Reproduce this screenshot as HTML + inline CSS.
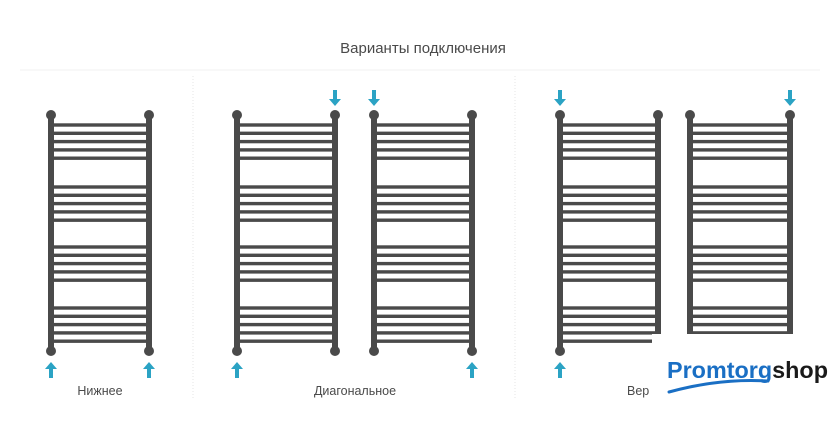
<!DOCTYPE html>
<html><head><meta charset="utf-8"><style>
html,body{margin:0;padding:0;background:#fff;}
svg{display:block}
text{font-family:"Liberation Sans","DejaVu Sans",sans-serif;fill:#4a4a4a}
</style></head><body>
<svg id="s" width="840" height="438" viewBox="0 0 840 438" xmlns="http://www.w3.org/2000/svg">
<rect width="840" height="438" fill="#fff"/>
<line x1="20" y1="70" x2="820" y2="70" stroke="#f1f1f1" stroke-width="1"/>
<line x1="193" y1="76" x2="193" y2="400" stroke="#e4e4e4" stroke-width="1" stroke-dasharray="1,2"/>
<line x1="515" y1="76" x2="515" y2="400" stroke="#e4e4e4" stroke-width="1" stroke-dasharray="1,2"/>
<text x="423" y="53" font-size="15" text-anchor="middle">Варианты подключения</text>
<text x="100" y="395" font-size="12.5" text-anchor="middle">Нижнее</text>
<text x="355" y="395" font-size="12.5" text-anchor="middle">Диагональное</text>
<text x="627" y="395" font-size="12.5">Вер</text>
<g id="g"></g>
<rect x="652" y="334" width="188" height="104" fill="#fff"/>
<text x="667" y="378" font-size="23" font-weight="bold" textLength="161" lengthAdjust="spacingAndGlyphs" style="fill:#1a6fc4">Promtorg<tspan style="fill:#1a1a1a">shop</tspan></text>
<path d="M669 392 Q720 378 768 381" stroke="#1a6fc4" stroke-width="3" fill="none" stroke-linecap="round"/>
</svg>
<script>
var g=document.getElementById('g'),h='';
var C='#4a4a4a',B='#2ba3c4';
function rad(l,r){
 h+='<rect x="'+(l-3)+'" y="115" width="6" height="236" fill="'+C+'"/>';
 h+='<rect x="'+(r-3)+'" y="115" width="6" height="236" fill="'+C+'"/>';
 [115,351].forEach(function(y){[l,r].forEach(function(x){h+='<circle cx="'+x+'" cy="'+y+'" r="5" fill="'+C+'"/>';});});
 [125,187,247,308].forEach(function(s){for(var i=0;i<5;i++){var y=s+i*8.3;h+='<rect x="'+l+'" y="'+(y-1.7)+'" width="'+(r-l)+'" height="3.4" fill="'+C+'"/>';}});
}
function up(x){h+='<path d="M'+x+' 362 l-6 7 h4 v9 h4 v-9 h4 z" fill="'+B+'"/>';}
function dn(x){h+='<path d="M'+x+' 106 l-6 -7 h4 v-9 h4 v9 h4 z" fill="'+B+'"/>';}
rad(51,149);rad(237,335);rad(374,472);rad(560,658);rad(690,790);
up(51);up(149);up(237);dn(335);dn(374);up(472);dn(560);up(560);dn(790);
g.innerHTML=h;
</script>
</body></html>
